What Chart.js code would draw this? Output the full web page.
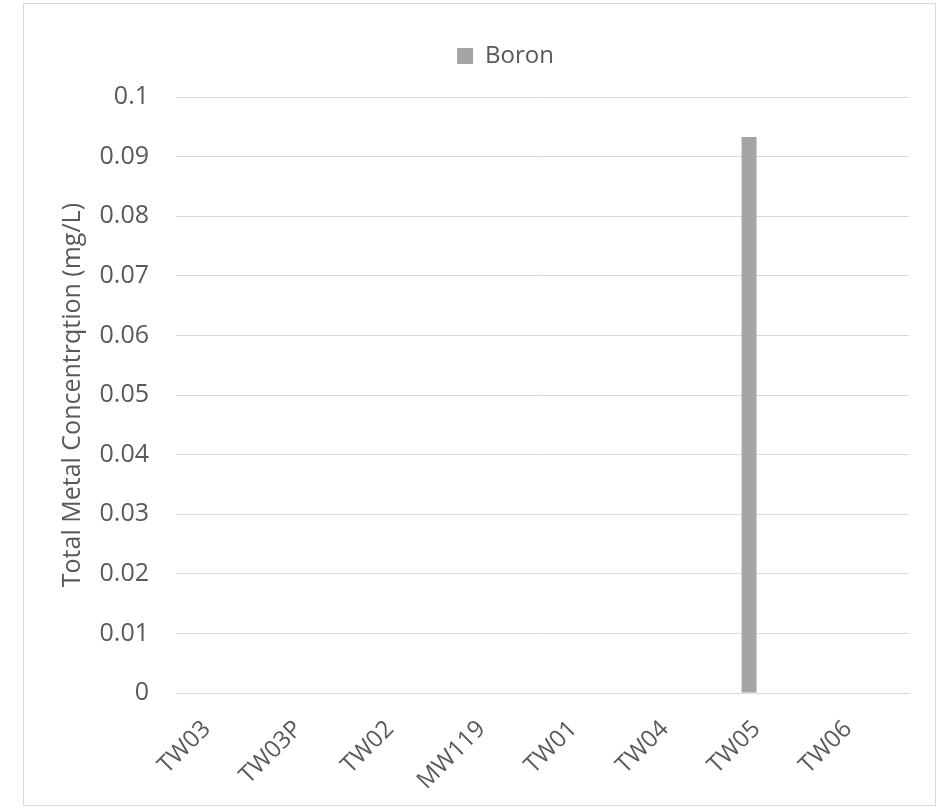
<!DOCTYPE html>
<html>
<head>
<meta charset="utf-8">
<script src="https://cdn.jsdelivr.net/npm/chart.js@4.4.0/dist/chart.umd.min.js"></script>
<style>
  html, body { margin: 0; padding: 0; background: #fff; }
  #frame { position: absolute; left: 23px; top: 3px; width: 913px; height: 803px; box-sizing: border-box; border: 1px solid #d9d9d9; }
  #chart { display: block; }
</style>
</head>
<body>
<div id="frame"><canvas id="chart" width="911" height="801"></canvas></div>
<script>
// ==================== DATA ====================
const wells = ['TW03', 'TW03P', 'TW02', 'MW119', 'TW01', 'TW04', 'TW05', 'TW06'];
const boron = [null, null, null, null, null, null, 0.0933, null];
// the original cluster holds 4 series, only Boron has a value and a legend entry
const emptySeries = [null, null, null, null, null, null, null, null];
const yTicks = [0, 0.01, 0.02, 0.03, 0.04, 0.05, 0.06, 0.07, 0.08, 0.09, 0.1];

const TEXT = '#595959';
const GRID = '#d9d9d9';
const FONT = '"Open Sans", "DejaVu Sans", sans-serif';

// legend sits centred over the plot, not over the whole canvas
const legendShift = {
  id: 'legendShift',
  afterLayout(chart) {
    if (chart.legend) chart.legend.left += 78;
  }
};

function initChart() {
  const ctx = document.getElementById('chart').getContext('2d');

  const datasets = [{
    label: 'Boron',
    data: boron,
    backgroundColor: '#a5a5a5',
    borderWidth: 0
  }];
  for (let i = 0; i < 3; i++) {
    datasets.push({ label: '', data: emptySeries, backgroundColor: '#a5a5a5' });
  }

  new Chart(ctx, {
    type: 'bar',
    data: { labels: wells, datasets },
    plugins: [legendShift],
    options: {
      responsive: false,
      animation: false,
      layout: { padding: { left: 0, right: 26, top: 12, bottom: 0 } },
      datasets: { bar: { categoryPercentage: 0.655, barPercentage: 1 } },
      plugins: {
        legend: {
          position: 'top',
          labels: {
            filter: item => item.text === 'Boron',
            boxWidth: 16,
            boxHeight: 16,
            color: TEXT,
            font: { family: FONT, size: 24 },
            padding: 28
          }
        },
        // empty spacer between legend and plot
        title: {
          display: true,
          text: '',
          weight: 10,
          font: { size: 1 },
          padding: { top: 9, bottom: 9 }
        },
        tooltip: { enabled: false }
      },
      scales: {
        x: {
          grid: { display: false, drawTicks: false },
          border: { color: GRID, width: 1 },
          ticks: {
            color: TEXT,
            font: { family: FONT, size: 24 },
            minRotation: 45,
            maxRotation: 45,
            autoSkip: false,
            padding: 22,
            labelOffset: -15
          },
          afterFit: scale => { scale.height = 112; }
        },
        y: {
          min: 0,
          max: 0.1,
          afterBuildTicks: scale => { scale.ticks = yTicks.map(v => ({ value: v })); },
          grid: { color: GRID, lineWidth: 1, drawTicks: false },
          border: { display: false },
          ticks: {
            color: TEXT,
            font: { family: FONT, size: 25 },
            padding: 27,
            callback: v => String(Number(v.toFixed(2)))
          },
          title: {
            display: true,
            text: 'Total Metal Concentrqtion (mg/L)',
            color: TEXT,
            font: { family: FONT, size: 25 },
            padding: { top: 34, bottom: 0 }
          },
          afterFit: scale => { scale.width = 152; }
        }
      }
    }
  });
}

document.addEventListener('DOMContentLoaded', initChart);
</script>
</body>
</html>
